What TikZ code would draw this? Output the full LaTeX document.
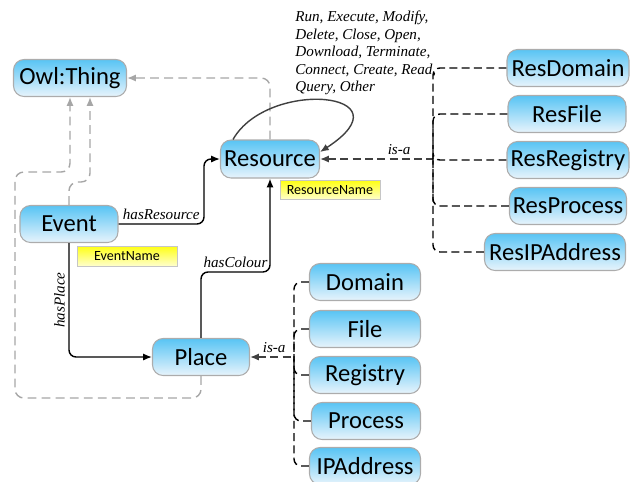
\documentclass[tikz,border=0pt]{standalone}
\usepackage{fontspec}
\setmainfont{Liberation Serif}
\newfontfamily\boxfont{Carlito}
\usetikzlibrary{arrows.meta}
\definecolor{clstop}{RGB}{88,196,244}
\definecolor{clsbot}{RGB}{232,244,252}
\definecolor{attop}{RGB}{255,255,20}
\definecolor{atbot}{RGB}{255,255,205}
\begin{document}
\begin{tikzpicture}[x=0.02cm,y=-0.02cm,
    cls/.style={draw=gray!65,line width=0.6pt,rounded corners=6pt,top color=clstop,bottom color=clsbot,
        font=\boxfont\fontsize{14}{16}\selectfont,inner sep=0pt,minimum height=0.74cm},
    attr/.style={draw=gray!45,line width=0.5pt,top color=attop,bottom color=atbot,
        font=\boxfont\fontsize{8}{9}\selectfont,inner sep=0pt,minimum height=0.38cm},
    rel/.style={line width=0.8pt,rounded corners=4pt,-{Latex[length=5pt,width=4pt]}},
    up/.style={gray!70,line width=0.8pt,dash pattern=on 5pt off 3pt,rounded corners=5pt,-{Latex[length=5pt,width=4pt]}},
    isa/.style={line width=0.8pt,dash pattern=on 4.5pt off 2.5pt,rounded corners=4pt},
    lbl/.style={font=\itshape\fontsize{8.6}{10}\selectfont,inner sep=2pt}]
\useasboundingbox (0,0) rectangle (638,481);
% classes
\node[cls,minimum width=2.26cm] (owl) at (70,78) {Owl:Thing};
\node[cls,minimum width=1.98cm,minimum height=0.76cm] (res) at (270,159) {Resource};
\node[cls,minimum width=1.96cm] (ev) at (69,224) {Event};
\node[cls,minimum width=1.94cm] (pl) at (201,357) {Place};
\node[attr,minimum width=2cm] (resname) at (330,190) {ResourceName};
\node[attr,minimum width=2cm,minimum height=0.4cm] (evname) at (127,256) {EventName};
% subclasses of Place
\node[cls,minimum width=2.22cm] (dom) at (365,282) {Domain};
\node[cls,minimum width=2.22cm] (file) at (365,329) {File};
\node[cls,minimum width=2.22cm] (reg) at (365,375) {Registry};
\node[cls,minimum width=2.18cm] (proc) at (366,421) {Process};
\node[cls,minimum width=2.22cm] (ip) at (365,466) {IPAddress};
% subclasses of Resource
\node[cls,minimum width=2.44cm] (rdom) at (568,68) {ResDomain};
\node[cls,minimum width=2.36cm] (rfile) at (567,114) {ResFile};
\node[cls,minimum width=2.44cm] (rreg) at (568,160) {ResRegistry};
\node[cls,minimum width=2.34cm] (rproc) at (568,206) {ResProcess};
\node[cls,minimum width=2.82cm] (rip) at (555,252) {ResIPAddress};
\node[lbl,anchor=north west,align=left,inner sep=0pt,font=\itshape\fontsize{8.6}{9.9}\selectfont] (acts) at (295,11)
    {Run, Execute, Modify,\\Delete, Close, Open,\\Download, Terminate,\\Connect, Create, Read,\\Query, Other};
% to Owl:Thing
\draw[up] (res.north) |- (owl.east);
\draw[up] (ev.north) -- ++(0,-23) -| ([xshift=0.4cm]owl.south);
\draw[up] (pl.south) |- (15,398) -- (15,172) -| (owl.south);
% properties
\draw[rel] (ev.east) -| ([xshift=-0.32cm]res.west) node[pos=0.25,above,lbl] {hasResource} -- (res.west);
\draw[rel] (ev.south) |- (pl.west) node[pos=0.25,rotate=90,anchor=south,lbl] {hasPlace};
\draw[rel] (pl.north) -- ++(0,-66) -| (res.south) node[pos=0.25,above,lbl] {hasColour};
\draw[line width=0.8pt,-{Latex[length=5pt,width=4pt]},black!75] ([xshift=0.26cm]res.north west)
    .. controls (268,78) and (412,92) .. ([yshift=0.14cm]res.east);
% is-a
\coordinate (resbus) at (433,159);
\coordinate (plbus) at (294,357);
\draw[isa,gray!50!black,{Latex[length=5pt,width=4pt]}-] (res.east) -- (resbus) node[pos=0.7,above,lbl,black] {is-a};
\draw[isa,gray!50!black,{Latex[length=5pt,width=4pt]}-] (pl.east) -- (plbus) node[pos=0.55,above,lbl,black] {is-a};
\foreach \n in {rdom,rfile,rreg,rproc,rip}
    \draw[isa] (\n.west) -| (resbus);
\foreach \n in {dom,file,reg,proc,ip}
    \draw[isa] (\n.west) -| (plbus);
\end{tikzpicture}
\end{document}
